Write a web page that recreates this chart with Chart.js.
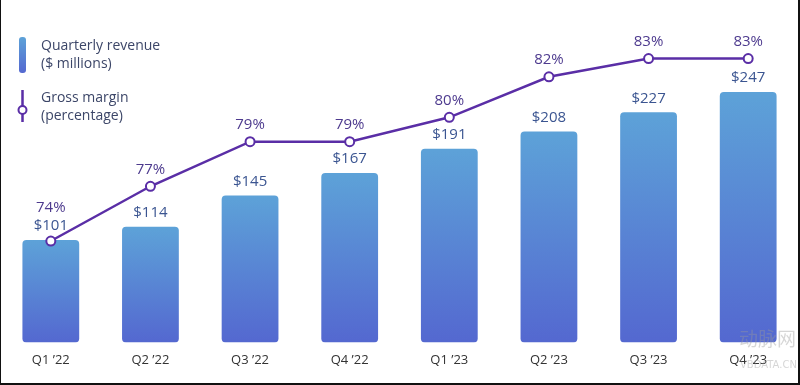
<!DOCTYPE html>
<html>
<head>
<meta charset="utf-8">
<script src="https://cdn.jsdelivr.net/npm/chart.js@4"></script>
<style>
  html, body { margin: 0; padding: 0; background: #fff; }
  #wrap {
    position: relative; width: 800px; height: 385px; box-sizing: border-box;
    border-left: 1px solid #111; border-right: 2px solid #111; border-bottom: 2px solid #111;
    background: #fff; overflow: hidden;
  }
  #myChart { display: block; }
  .wm { position: absolute; color: #9a9a9a; opacity: 0.4; white-space: nowrap; line-height: 1; }
</style>
</head>
<body>
<div id="wrap">
  <canvas id="myChart" width="797" height="383"></canvas>
  <div class="wm" style="left:738px; top:328px; font-size:19px; font-family:'Noto Sans CJK SC';">动脉网</div>
  <div class="wm" style="left:739px; top:360px; font-size:10px; font-family:'DejaVu Sans';">VBDATA.CN</div>
</div>
<script>
const quarters = ['Q1 \u201922', 'Q2 \u201922', 'Q3 \u201922', 'Q4 \u201922', 'Q1 \u201923', 'Q2 \u201923', 'Q3 \u201923', 'Q4 \u201923'];
const revenue = [101, 114, 145, 167, 191, 208, 227, 247];       // $ millions
const grossMargin = [74, 76.7, 78.9, 78.9, 80.1, 82.1, 83, 83];  // percent
const legendRevenue = ['Quarterly revenue', '($ millions)'];
const legendMargin = ['Gross margin', '(percentage)'];

const FONT = '"Open Sans", sans-serif';
const LINE_COLOR = '#5a2ea6';

let makeGradient = (ctx, top, bottom) => {
  const g = ctx.createLinearGradient(0, top, 0, bottom);
  g.addColorStop(0, '#5da2d8');
  g.addColorStop(1, '#5468d0');
  return g;
};

// gradient per bar, light blue at the top going to indigo at the base
let barGradient = (c) => {
  const chart = c.chart;
  if (!chart.chartArea || c.raw == null) return '#5a8fd8';
  const y = chart.scales.y;
  return makeGradient(chart.ctx, y.getPixelForValue(c.raw), y.getPixelForValue(0));
};

const labelsPlugin = {
  id: 'valueLabels',
  afterDatasetsDraw(chart) {
    const ctx = chart.ctx;
    const bars = chart.getDatasetMeta(0).data;
    const pts = chart.getDatasetMeta(1).data;
    ctx.save();
    ctx.textAlign = 'center';
    ctx.textBaseline = 'middle';
    ctx.font = '15px ' + FONT;
    bars.forEach((b, i) => {
      ctx.fillStyle = '#3b5591';
      ctx.fillText('$' + revenue[i], b.x, b.y - 14);
    });
    pts.forEach((p, i) => {
      let ly = p.y - 17;
      // push the % label above the $ label when they would collide
      if (Math.abs(ly - (bars[i].y - 14)) < 16) ly = bars[i].y - 32;
      ctx.fillStyle = '#4d3a8e';
      ctx.fillText(Math.round(grossMargin[i]) + '%', p.x, ly);
    });
    ctx.restore();
  }
};

const legendPlugin = {
  id: 'sideLegend',
  afterDraw(chart) {
    const ctx = chart.ctx;
    ctx.save();
    // revenue swatch
    ctx.fillStyle = makeGradient(ctx, 37, 73);
    ctx.beginPath();
    ctx.roundRect(18, 37, 7, 36, 3);
    ctx.fill();
    // margin swatch
    ctx.strokeStyle = LINE_COLOR;
    ctx.lineWidth = 2.5;
    ctx.beginPath();
    ctx.moveTo(21.5, 90); ctx.lineTo(21.5, 106);
    ctx.moveTo(21.5, 114); ctx.lineTo(21.5, 122);
    ctx.stroke();
    ctx.lineWidth = 2;
    ctx.fillStyle = '#fff';
    ctx.beginPath();
    ctx.arc(21.5, 110, 4, 0, Math.PI * 2);
    ctx.fill(); ctx.stroke();
    // texts
    ctx.fillStyle = '#3c4668';
    ctx.font = '14px ' + FONT;
    ctx.textBaseline = 'middle';
    ctx.textAlign = 'left';
    legendRevenue.forEach((t, k) => ctx.fillText(t, 40, 46 + k * 18));
    legendMargin.forEach((t, k) => ctx.fillText(t, 40, 98 + k * 18));
    ctx.restore();
  }
};

let plot = () => {
  const ctx = document.getElementById('myChart');
  const dataset = {
    labels: quarters,
    datasets: [{
      type: 'bar',
      label: 'Quarterly revenue ($ millions)',
      data: revenue,
      yAxisID: 'y',
      backgroundColor: barGradient,
      borderRadius: 4,
      borderSkipped: false,
      barPercentage: 0.57,
      categoryPercentage: 1,
      order: 2
    }, {
      type: 'line',
      label: 'Gross margin (percentage)',
      data: grossMargin,
      yAxisID: 'y2',
      borderColor: LINE_COLOR,
      borderWidth: 2.5,
      pointRadius: 4.5,
      pointBorderWidth: 2,
      pointBackgroundColor: '#fff',
      pointBorderColor: LINE_COLOR,
      tension: 0,
      order: 1
    }]
  };
  const config = {
    data: dataset,
    options: {
      responsive: false,
      animation: false,
      layout: { autoPadding: false, padding: { top: 20, bottom: 5, left: 0, right: 0 } },
      plugins: { legend: { display: false }, tooltip: { enabled: false } },
      scales: {
        x: {
          grid: { display: false, drawTicks: false },
          border: { display: false },
          ticks: { color: '#333', font: { family: FONT, size: 13 }, padding: 10 }
        },
        y: { display: false, min: 0, max: 318 },
        y2: { display: false, min: 69, max: 84.9 }
      }
    },
    plugins: [labelsPlugin, legendPlugin]
  };
  const chart = new Chart(ctx, config);
};

plot();
</script>
</body>
</html>
